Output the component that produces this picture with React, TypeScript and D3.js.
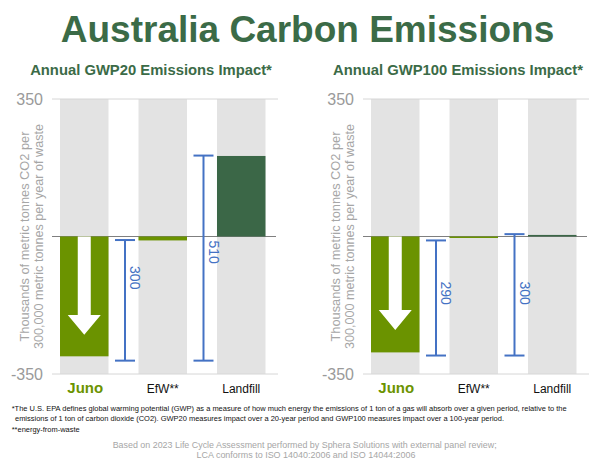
import React from "react";
import * as d3 from "d3";

const categories = ["Juno", "EfW**", "Landfill"];
const gwp20Values = [-305, -10, 205];
const gwp100Values = [-295, -3, 4];
const yTicks = [350, -350];
const yDomain = [-350, 350];

const gwp20RangeTop = [-9, 206];
const gwp20RangeBottom = [-316, -316];
const gwp20RangeLabels = ["300", "510"];
const gwp20LabelAt = [-105, -40];

const gwp100RangeTop = [-10, 6];
const gwp100RangeBottom = [-303, -303];
const gwp100RangeLabels = ["290", "300"];
const gwp100LabelAt = [-144, -144];

const panelTitles = ["Annual GWP20 Emissions Impact*", "Annual GWP100 Emissions Impact*"];
const yTitleLines = ["Thousands of metric tonnes CO2 per", "300,000 metric tonnes per year of waste"];
const footnoteLines = [
  "*The U.S. EPA defines global warming potential (GWP) as a measure of how much energy the emissions of 1 ton of a gas will absorb over a given period, relative to the",
  "emissions of 1 ton of carbon dioxide (CO2). GWP20 measures impact over a 20-year period and GWP100 measures impact over a 100-year period.",
];
const footnote2 = "**energy-from-waste";
const sourceLines = [
  "Based on 2023 Life Cycle Assessment performed by Sphera Solutions with external panel review;",
  "LCA conforms to ISO 14040:2006 and ISO 14044:2006",
];

const FONT = "'Liberation Sans', Arial, Helvetica, sans-serif";
const GREEN = "#3b6b47";
const JUNO = "#6b9300";
const BLUE = "#4472c4";
const barColors = [JUNO, "#6b9300", "#3b6747"];
const yTitleLengths = [210, 225];

type PanelProps = {
  offset: number;
  title: string;
  titleX: number;
  values: number[];
  rTop: number[];
  rBottom: number[];
  rLabels: string[];
  rLabelAt: number[];
  arrowBase: number;
  arrowTip: number;
};

const y = d3.scaleLinear().domain(yDomain).range([374, 99]);

function Panel(p: PanelProps) {
  const plotL = 52 + p.offset;
  const plotR = 278 + p.offset;
  const x = d3
    .scaleBand<string>()
    .domain(categories)
    .range([plotL, plotL + 221.5])
    .paddingInner(0.382)
    .paddingOuter(0.102);
  const bw = x.bandwidth();
  const step = x.step();
  const gap = step - bw;
  const cx0 = (x(categories[0]) as number) + bw / 2;
  const jv = p.values[0];
  const yb = y(jv * p.arrowBase);
  const yt = y(jv * p.arrowTip);
  const y0 = y(0);
  const arrowPts = [
    [cx0 - 6.5, y0],
    [cx0 - 6.5, yb],
    [cx0 - 16.5, yb],
    [cx0, yt],
    [cx0 + 16.5, yb],
    [cx0 + 6.5, yb],
    [cx0 + 6.5, y0],
  ]
    .map((d) => d.join(","))
    .join(" ");
  return (
    <g>
      <text x={p.titleX} y={75} textAnchor="middle" fontFamily={FONT} fontWeight="bold" fontSize={14.8} fill={GREEN}>
        {p.title}
      </text>
      {categories.map((c) => (
        <rect key={"bg" + c} x={x(c)} y={y(350)} width={bw} height={y(-350) - y(350)} fill="#e3e3e3" />
      ))}
      {yTicks.map((t) => (
        <g key={"t" + t}>
          <line x1={plotL} x2={plotR} y1={y(t)} y2={y(t)} stroke="#d6d6d6" strokeWidth={1} />
          <text x={plotL - 9} y={y(t)} dy="0.38em" textAnchor="end" fontFamily={FONT} fontSize={16} fill="#9a9a9a">
            {t}
          </text>
        </g>
      ))}
      <line x1={plotL} x2={plotR - 2} y1={y0} y2={y0} stroke="#7f7f7f" strokeWidth={1.2} />
      {categories.map((c, i) => {
        const v = p.values[i];
        return (
          <rect
            key={"b" + c}
            x={x(c)}
            y={Math.min(y(v), y0)}
            width={bw}
            height={Math.max(Math.abs(y(v) - y0), 1.5)}
            fill={barColors[i]}
          />
        );
      })}
      <polygon points={arrowPts} fill="#ffffff" />
      {p.rTop.map((t, i) => {
        const ex = (x(categories[i + 1]) as number) - gap / 2 + 1.5;
        const lx = ex + 10;
        const ly = y(p.rLabelAt[i]);
        return (
          <g key={"e" + i}>
            <line x1={ex} x2={ex} y1={y(t)} y2={y(p.rBottom[i])} stroke={BLUE} strokeWidth={2} />
            <line x1={ex - 10} x2={ex + 10} y1={y(t)} y2={y(t)} stroke={BLUE} strokeWidth={2} />
            <line x1={ex - 10} x2={ex + 10} y1={y(p.rBottom[i])} y2={y(p.rBottom[i])} stroke={BLUE} strokeWidth={2} />
            <text
              transform={`translate(${lx},${ly}) rotate(90)`}
              textAnchor="middle"
              dy="0.35em"
              fontFamily={FONT}
              fontSize={14}
              fill={BLUE}
            >
              {p.rLabels[i]}
            </text>
          </g>
        );
      })}
      {yTitleLines.map((l, i) => (
        <text
          key={"yt" + i}
          transform={`translate(${plotL - 27 + i * 13.5},${y0}) rotate(-90)`}
          textAnchor="middle"
          dy="0.35em"
          fontFamily={FONT}
          fontSize={12.5}
          fill="#a6a6a6"
          textLength={yTitleLengths[i]}
          lengthAdjust="spacingAndGlyphs"
        >
          {l}
        </text>
      ))}
      {categories.map((c, i) => (
        <text
          key={"c" + c}
          x={(x(c) as number) + bw / 2 + (i === 0 ? 1 : 0)}
          y={393}
          textAnchor="middle"
          fontFamily={FONT}
          fontSize={i === 0 ? 15 : 12}
          fontWeight={i === 0 ? "bold" : "normal"}
          fill={i === 0 ? JUNO : "#111111"}
        >
          {c}
        </text>
      ))}
    </g>
  );
}

export default function App() {
  return (
    <svg
      width={600}
      height={466}
      viewBox="0 0 600 466"
      style={{ position: "absolute", left: 0, top: 0, background: "#ffffff" }}
    >
      <rect x={0} y={0} width={600} height={466} fill="#ffffff" />
      <text x={307.5} y={42} textAnchor="middle" fontFamily={FONT} fontWeight="bold" fontSize={37} fill={GREEN}>
        Australia Carbon Emissions
      </text>
      <Panel
        offset={0}
        title={panelTitles[0]}
        titleX={151}
        values={gwp20Values}
        rTop={gwp20RangeTop}
        rBottom={gwp20RangeBottom}
        rLabels={gwp20RangeLabels}
        rLabelAt={gwp20LabelAt}
        arrowBase={0.656}
        arrowTip={0.82}
      />
      <Panel
        offset={311}
        title={panelTitles[1]}
        titleX={458}
        values={gwp100Values}
        rTop={gwp100RangeTop}
        rBottom={gwp100RangeBottom}
        rLabels={gwp100RangeLabels}
        rLabelAt={gwp100LabelAt}
        arrowBase={0.634}
        arrowTip={0.807}
      />
      <text x={11.7} y={411} fontFamily={FONT} fontSize={7.4} fill="#111111" textLength={555} lengthAdjust="spacingAndGlyphs">
        {footnoteLines[0]}
      </text>
      <text x={15} y={420.5} fontFamily={FONT} fontSize={7.4} fill="#111111" textLength={489} lengthAdjust="spacingAndGlyphs">
        {footnoteLines[1]}
      </text>
      <text x={11.7} y={432} fontFamily={FONT} fontSize={7.4} fill="#111111" textLength={68} lengthAdjust="spacingAndGlyphs">
        {footnote2}
      </text>
      <text x={304.7} y={447.5} textAnchor="middle" fontFamily={FONT} fontSize={9.5} fill="#a6a6a6" textLength={384} lengthAdjust="spacingAndGlyphs">
        {sourceLines[0]}
      </text>
      <text x={306} y={458} textAnchor="middle" fontFamily={FONT} fontSize={9.5} fill="#a6a6a6" textLength={219} lengthAdjust="spacingAndGlyphs">
        {sourceLines[1]}
      </text>
    </svg>
  );
}
